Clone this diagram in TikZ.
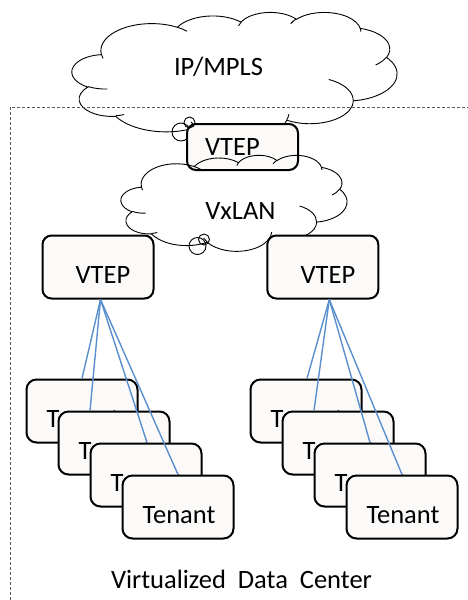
\documentclass[tikz,border=0pt]{standalone}
\usepackage{fontspec}
\setmainfont{Carlito}
\definecolor{boxfill}{HTML}{FBFAF8}
\definecolor{linkblue}{HTML}{5A8FCE}
\definecolor{framegray}{HTML}{5A5A5A}

% One elliptical arc of an office-style cloud outline.
% #1,#2: radii, #3: start angle, #4: sweep (visual angles, degrees).
% Visual angles are turned into parametric ones before the arc is drawn.
\newcommand\ooarc[4]{%
  \pgfextra{%
    \pgfmathsetmacro\ooTs{atan2(#1*sin(#3),#2*cos(#3))}%
    \pgfmathsetmacro\ooTe{atan2(#1*sin(#3+#4),#2*cos(#3+#4))}%
    \pgfmathsetmacro\ooTd{mod(\ooTe-\ooTs+720,360)}%
    \global\let\ooTs\ooTs\global\let\ooTd\ooTd}%
  arc[x radius=#1, y radius=#2, start angle=\ooTs, delta angle=\ooTd]}

% Cloud outline in a 432 x 432 frame, placed at (#1,#2) with size #3 x #4.
\newcommand\drawoocloud[4]{%
  \begin{scope}[shift={(#1,#2)}, xscale=#3/432, yscale=#4/432]
    \draw[cloudline] (39,143.7)
      \ooarc{67.53}{91.90}{-190.4875}{123.7805}
      \ooarc{53.33}{72.67}{-144.1024}{89.9452}
      \ooarc{43.65}{59.45}{-145.8079}{99.7230}
      \ooarc{48.57}{65.95}{-130.9861}{117.2417}
      \ooarc{53.33}{72.73}{-78.7089}{109.0269}
      \ooarc{67.75}{92.20}{-46.2673}{130.2690}
      \ooarc{57.85}{78.67}{0.6250}{114.0333}
      \ooarc{67.52}{92.15}{22.4516}{115.1726}
      \ooarc{77.20}{105.43}{66.2426}{75.7110}
      \ooarc{43.60}{59.18}{-274.9421}{146.7356}
      \ooarc{43.45}{59.45}{-246.8285}{152.5189} -- cycle;
    \draw[cloudline]
      (46.93,261.77) \ooarc{43.45}{59.45}{86.7420}{26.4295}
      (69.28,348.99) \ooarc{43.60}{59.18}{73.6105}{11.4475}
      (164.78,390.90) \ooarc{67.52}{92.15}{137.6242}{14.0811}
      (288.27,347.51) \ooarc{67.52}{92.15}{6.4533}{15.9984}
      (341.29,229.54) \ooarc{57.85}{78.67}{-70.2924}{70.9174}
      (417.98,153.54) \ooarc{53.33}{72.73}{30.3180}{27.7515}
      (383.24,54.26) \ooarc{48.57}{65.95}{-13.7443}{14.8589}
      (290.78,39.52) \ooarc{48.57}{65.95}{-149.1815}{18.1954}
      (221.41,47.20) \ooarc{43.65}{59.45}{-163.4943}{17.6864}
      (140.00,51.92) \ooarc{67.53}{91.90}{-66.7070}{12.3194}
      (41.27,157.89) \ooarc{67.53}{91.90}{157.6544}{11.8582};
  \end{scope}}

\tikzset{
  cloudline/.style={draw=black, line width=0.9pt},
  bubble/.style={circle, draw=black, line width=0.9pt, inner sep=0pt},
  vtepbox/.style={draw=black, line width=2pt, fill=boxfill, rounded corners=9pt,
    minimum width=111pt, inner sep=0pt},
  tenantbox/.style={draw=black, line width=2pt, fill=boxfill, rounded corners=10pt,
    minimum width=111pt, minimum height=63pt, inner sep=0pt},
  lbl/.style={inner sep=0pt, anchor=base, font=\fontsize{26.5}{31}\selectfont, text=black},
  link/.style={draw=linkblue, line width=1.4pt},
  dcframe/.style={draw=framegray, line width=1pt, dash pattern=on 3pt off 2pt}
}

\begin{document}
\begin{tikzpicture}[x=1pt, y=-1pt]
  \useasboundingbox (0,0) rectangle (468,600);

  % wide area network
  \drawoocloud{72}{12}{325}{127}
  \node[lbl] (ipmpls) at (218.5,75) {IP/MPLS};
  \node[bubble, minimum size=18pt] (wanbubbleA) at (181,132) {};

  % data center boundary
  \draw[dcframe] (10,600) -- (10,107) -- (468,107);

  % gateway VTEP
  \node[vtepbox, minimum height=46pt] (vtepgw) at (242.5,147) {};
  \node[lbl] (vtepgwtext) at (232.5,155) {VTEP};
  \node[bubble, minimum size=11pt] (wanbubbleB) at (189.5,122.5) {};

  % overlay network
  \drawoocloud{121}{155}{226}{96}
  \node[lbl] (vxlan) at (240.5,219) {VxLAN};
  \node[bubble, minimum size=17pt] (ovlbubbleA) at (197.5,246) {};
  \node[bubble, minimum size=11pt] (ovlbubbleB) at (204,239.5) {};

  % edge VTEPs
  \node[vtepbox, minimum height=63pt] (vtepL) at (98,267) {};
  \node[lbl] (vtepLtext) at (103,283) {VTEP};
  \node[vtepbox, minimum height=63pt] (vtepR) at (322.8,267) {};
  \node[lbl] (vtepRtext) at (328,283) {VTEP};
  \coordinate (footL) at ([xshift=2.5pt]vtepL.south);
  \coordinate (footR) at ([xshift=6.5pt]vtepR.south);

  % tenant stacks
  \foreach \k in {1,...,4} {
    \node[tenantbox] (lt\k) at ({82+32*(\k-1)},{411+32*(\k-1)}) {};
    \node[lbl] (lt\k text) at ({83+32*(\k-1)},{427+32*(\k-1)}) {Tenant};
  }
  \foreach \k in {1,...,4} {
    \node[tenantbox] (rt\k) at ({306+32*(\k-1)},{411+32*(\k-1)}) {};
    \node[lbl] (rt\k text) at ({307+32*(\k-1)},{427+32*(\k-1)}) {Tenant};
  }

  % VTEP to tenant links
  \draw[link] (footL) -- (lt1.north);
  \draw[link] (footL) -- ([xshift=-24pt]lt2.north);
  \draw[link] (footL) -- ([xshift=1pt]lt3.north);
  \draw[link] (footL) -- (lt4.north);
  \draw[link] (footR) -- ([xshift=1pt]rt1.north);
  \draw[link] (footR) -- ([xshift=-24pt]rt2.north);
  \draw[link] (footR) -- (rt3.north);
  \draw[link] (footR) -- (rt4.north);

  \node[lbl] (dclabel) at (241.5,588) {Virtualized~~Data~~Center};
\end{tikzpicture}
\end{document}
